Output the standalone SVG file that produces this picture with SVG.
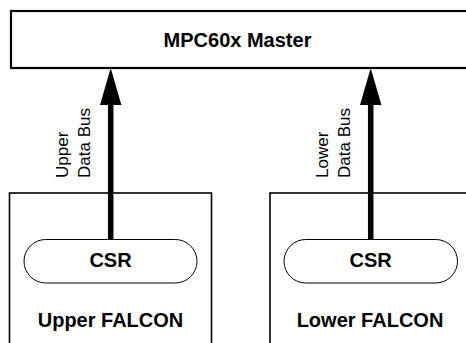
<svg xmlns="http://www.w3.org/2000/svg" width="466" height="343" viewBox="0 0 466 343">
<style>
.box{fill:#fff;stroke:#000;stroke-width:1.6}
.master{fill:#fff;stroke:#000;stroke-width:2.2}
.pill{fill:#fff;stroke:#000;stroke-width:1}
.bold{font-family:"Liberation Sans",Arial,sans-serif;font-weight:bold;font-size:20px;fill:#000;text-anchor:middle}
.lbl{font-family:"Liberation Sans",Arial,sans-serif;font-size:17px;fill:#000}
.bus{stroke:#000;stroke-width:5.5;fill:none}
</style>
<g id="master">
<rect class="master" x="11" y="11" width="470" height="57"/>
<text class="bold" x="237.5" y="47">MPC60x Master</text>
</g>
<g id="upper-falcon">
<rect class="box" x="9.5" y="193" width="202" height="170"/>
<text class="bold" x="110.5" y="327">Upper FALCON</text>
</g>
<g id="upper-csr">
<rect class="pill" x="24" y="239.5" width="173" height="43.5" rx="21.75"/>
<text class="bold" x="110.5" y="267">CSR</text>
</g>
<g id="lower-falcon">
<rect class="box" x="270" y="193" width="210" height="170"/>
<text class="bold" x="370" y="327">Lower FALCON</text>
</g>
<g id="lower-csr">
<rect class="pill" x="284" y="239.5" width="173.5" height="43.5" rx="21.75"/>
<text class="bold" x="370.7" y="267">CSR</text>
</g>
<g id="connectors">
<line class="bus" x1="110.7" y1="239.5" x2="110.7" y2="100"/>
<polygon points="110.7,68 100,105 121.4,105" fill="#000"/>
<line class="bus" x1="370.7" y1="239.5" x2="370.7" y2="100"/>
<polygon points="370.7,68 360,105 381.4,105" fill="#000"/>
<text class="lbl" transform="translate(68,178) rotate(-90)">Upper</text>
<text class="lbl" transform="translate(90,178) rotate(-90)">Data Bus</text>
<text class="lbl" transform="translate(328,178) rotate(-90)">Lower</text>
<text class="lbl" transform="translate(350,178) rotate(-90)">Data Bus</text>
</g>
</svg>
